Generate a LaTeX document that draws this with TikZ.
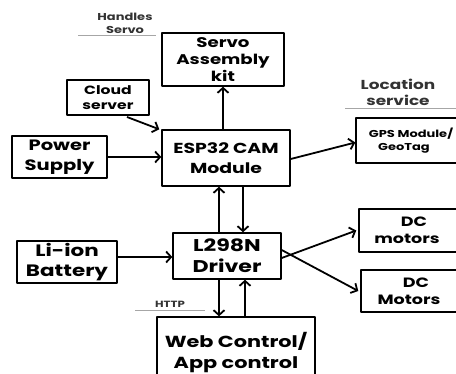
\documentclass[tikz,border=0pt]{standalone}
\usepackage{fontspec}
\setmainfont{Poppins}[FakeStretch=1.3]
\usetikzlibrary{arrows.meta}
\newcommand\fsz[2]{\bfseries\fontsize{#1}{#2}\selectfont}
\begin{document}
\begin{tikzpicture}[x=1pt,y=-1pt, line join=round, >={Straight Barb[length=5pt,width=11pt]},
	blk/.style={draw, line width=1.4pt, rectangle, align=center, inner sep=0pt},
	arr/.style={->, line width=1.8pt},
	note/.style={align=center, text=black!80},
	rule/.style={gray!70, line width=0.6pt}]
	%%Khung
	\useasboundingbox (0,0) rectangle (456,374);
	\clip (0,0) rectangle (456,374);
	%%Khối
	\node[blk, minimum width=122, minimum height=53, font=\fsz{14}{17}] (servo) at (223,59.5) {Servo\\Assembly\\kit};
	\node[blk, minimum width=82, minimum height=35, font=\fsz{12}{15}] (cloud) at (108,97.5) {Cloud\\server};
	\node[blk, minimum width=95, minimum height=42, font=\fsz{15}{20}] (power) at (59.5,157) {Power\\Supply};
	\node[blk, minimum width=128, minimum height=56, font=\fsz{14.5}{20}] (esp) at (226,158) {ESP32 CAM\\Module};
	\node[blk, minimum width=110, minimum height=45, font=\fsz{10}{13}] (gps) at (411,140.5) {GPS Module/\\GeoTag\hspace*{14pt}};
	\node[blk, minimum width=108, minimum height=46, font=\fsz{17}{21}] (l298) at (227,256) {L298N\\Driver};
	\node[blk, minimum width=100, minimum height=42, font=\fsz{16.5}{20}] (bat) at (67,262) {Li-ion\\Battery};
	\node[blk, minimum width=110, minimum height=43, font=\fsz{13.5}{17}] (dc1) at (414,230.5) {DC\\motors\hspace*{14pt}};
	\node[blk, minimum width=110, minimum height=42, font=\fsz{13.5}{17}] (dc2) at (416,291) {DC\\Motors\hspace*{14pt}};
	\node[blk, minimum width=158, minimum height=72, font=\fsz{16}{21}] (web) at (236,353) {Web Control/\\App control};
	%%Ghi chú
	\node[note, font=\fsz{10}{13}] (hs) at (125,23) {Handles\\Servo};
	\draw[rule] (78,35) -- (156,35);
	\node[note, font=\fsz{13}{16}] (loc) at (398,92) {Location\\service};
	\draw[rule] (345,108) -- (456,108);
	\node[note, font=\fsz{9}{11}] (http) at (170,304) {HTTP};
	\draw[rule] (135,310) -- (205,310);
	%%Mũi tên
	\draw[arr] (esp.north -| servo) -- (servo.south);
	\draw[arr] (127,117) -- ([xshift=-2]esp.north west);
	\draw[arr] (power.east) -- (esp.west |- power.east);
	\draw[arr] ([yshift=-1]esp.east) -- ([yshift=-2]gps.west);
	\draw[arr] ([xshift=-8]l298.north) -- ([xshift=-8]esp.south -| l298.north);
	\draw[arr] ([xshift=16]esp.south -| l298.north) -- ([xshift=16]l298.north);
	\draw[arr] (bat.east |- 0,257) -- (l298.west |- 0,257);
	\draw[arr] ([xshift=-8]l298.south) -- ([xshift=-8]web.north -| l298.south);
	\draw[arr] ([xshift=18]web.north -| l298.south) -- ([xshift=18]l298.south);
	\draw[arr] ([yshift=-2]l298.east) -- ([xshift=-2]dc1.west);
	\draw[arr] ([yshift=6]l298.east) -- ([xshift=-2]dc2.west);
\end{tikzpicture}
\end{document}
